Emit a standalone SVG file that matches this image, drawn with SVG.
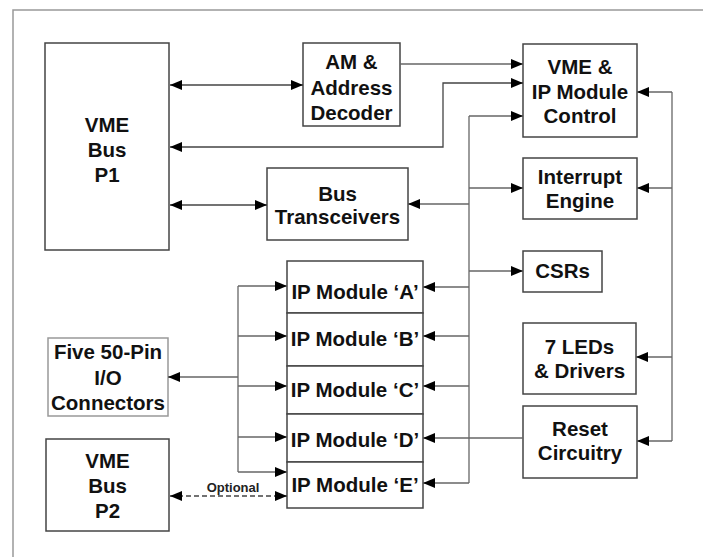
<svg xmlns="http://www.w3.org/2000/svg" width="703" height="557" viewBox="0 0 703 557">
<defs>
<marker id="ah" markerUnits="userSpaceOnUse" markerWidth="12" markerHeight="10" refX="12" refY="5" orient="auto-start-reverse">
<path d="M0,0 L12,5 L0,10 z" fill="#000"/>
</marker>
<style>
.box{fill:#fff;stroke:#444;stroke-width:1.5}
.lbox{fill:#fff;stroke:#999;stroke-width:1.5}
.t{font-family:"Liberation Sans",Arial,sans-serif;font-weight:bold;font-size:20.5px;fill:#111;text-anchor:middle}
.c{fill:none;stroke:#666;stroke-width:1.3}
.ca{fill:none;stroke:#666;stroke-width:1.3;marker-end:url(#ah)}
.cb{fill:none;stroke:#444;stroke-width:1.3;marker-start:url(#ah);marker-end:url(#ah)}
.opt{font-family:"Liberation Sans",Arial,sans-serif;font-weight:bold;font-size:13px;fill:#222;text-anchor:middle}
</style>
</defs>
<rect x="0" y="0" width="703" height="557" fill="#fff"/>
<path d="M13,557 V10 H703" fill="none" stroke="#999" stroke-width="1.5"/>

<g id="vme-p1"><rect class="box" x="45" y="43" width="124" height="207"/>
<text class="t" x="107" y="132">VME</text><text class="t" x="107" y="157">Bus</text><text class="t" x="107" y="182">P1</text></g>

<g id="am-decoder"><rect class="box" x="303" y="43" width="97" height="83"/>
<text class="t" x="351.5" y="69">AM &amp;</text><text class="t" x="351.5" y="95">Address</text><text class="t" x="351.5" y="120">Decoder</text></g>

<g id="control"><rect class="box" x="523" y="44" width="114" height="93"/>
<text class="t" x="580" y="74">VME &amp;</text><text class="t" x="580" y="99">IP Module</text><text class="t" x="580" y="123">Control</text></g>

<g id="interrupt"><rect class="box" x="523" y="158" width="114" height="61"/>
<text class="t" x="580" y="184">Interrupt</text><text class="t" x="580" y="208">Engine</text></g>

<g id="transceivers"><rect class="box" x="267" y="168" width="141" height="72"/>
<text class="t" x="337.5" y="201">Bus</text><text class="t" x="337.5" y="224">Transceivers</text></g>

<g id="csrs"><rect class="box" x="523" y="251" width="79" height="41"/>
<text class="t" x="562.5" y="278">CSRs</text></g>

<g id="leds"><rect class="box" x="523" y="323" width="113" height="71"/>
<text class="t" x="579.5" y="354">7 LEDs</text><text class="t" x="579.5" y="378">&amp; Drivers</text></g>

<g id="reset"><rect class="box" x="523" y="406" width="114" height="72"/>
<text class="t" x="580" y="436">Reset</text><text class="t" x="580" y="460">Circuitry</text></g>

<g id="io-connectors"><rect class="lbox" x="48" y="338" width="120" height="78"/>
<text class="t" x="108" y="359">Five 50-Pin</text><text class="t" x="108" y="385">I/O</text><text class="t" x="108" y="410">Connectors</text></g>

<g id="vme-p2"><rect class="box" x="46" y="439" width="123" height="92"/>
<text class="t" x="107.5" y="468">VME</text><text class="t" x="107.5" y="493">Bus</text><text class="t" x="107.5" y="518">P2</text></g>

<g id="ip-a"><rect class="box" x="287" y="261" width="136" height="52"/><text class="t" x="355" y="299">IP Module ‘A’</text></g>
<g id="ip-b"><rect class="box" x="287" y="313" width="136" height="53"/><text class="t" x="355" y="346">IP Module ‘B’</text></g>
<g id="ip-c"><rect class="box" x="287" y="366" width="136" height="48"/><text class="t" x="355" y="397">IP Module ‘C’</text></g>
<g id="ip-d"><rect class="box" x="287" y="414" width="136" height="48"/><text class="t" x="355" y="447">IP Module ‘D’</text></g>
<g id="ip-e"><rect class="box" x="287" y="462" width="136" height="46"/><text class="t" x="355" y="492">IP Module ‘E’</text></g>

<g id="connectors">
<path class="cb" d="M170,85 H303"/>
<path class="cb" d="M170,205 H267"/>
<path class="ca" d="M400,64 H523"/>
<path class="cb" d="M170,147 H443 V83 H523"/>
<path class="c" d="M469,116 V483"/>
<path class="ca" d="M469,116 H523"/>
<path class="ca" d="M469,188 H523"/>
<path class="ca" d="M469,204 H408"/>
<path class="ca" d="M469,271 H523"/>
<path class="ca" d="M469,287 H423"/>
<path class="ca" d="M469,336 H423"/>
<path class="ca" d="M469,386 H423"/>
<path class="ca" d="M469,483 H423"/>
<path class="ca" d="M523,438 H423"/>
<path class="c" d="M672,92 V441"/>
<path class="ca" d="M672,92 H637"/>
<path class="ca" d="M672,188 H637"/>
<path class="ca" d="M672,357 H636"/>
<path class="ca" d="M672,441 H637"/>
<path class="c" d="M238,286 V472"/>
<path class="ca" d="M238,377 H168"/>
<path class="ca" d="M238,286 H287"/>
<path class="ca" d="M238,336 H287"/>
<path class="ca" d="M238,386 H287"/>
<path class="ca" d="M238,437 H287"/>
<path class="ca" d="M238,472 H287"/>
<path class="cb" d="M170,496 H287" stroke-dasharray="5,3"/>
<text class="opt" x="233" y="492">Optional</text>
</g>
</svg>
